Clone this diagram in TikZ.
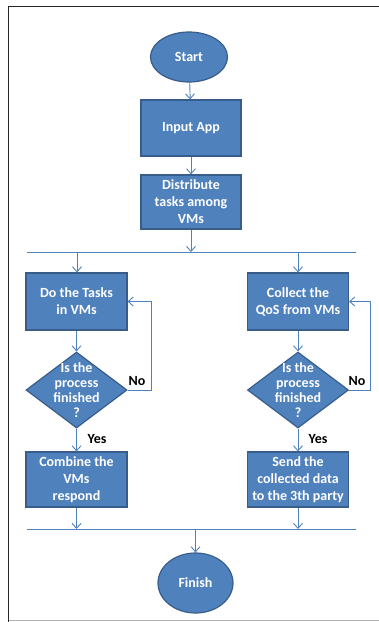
\documentclass[tikz,border=0pt]{standalone}
\usepackage{fontspec}
\setmainfont{Carlito}
\usetikzlibrary{arrows.meta,shapes.geometric}
\definecolor{boxblue}{HTML}{4F81BD}
\definecolor{boxedge}{HTML}{385D8A}
\definecolor{linkblue}{HTML}{4F81BD}
\tikzset{
  boxfont/.style={font=\fontsize{14}{17}\selectfont\bfseries},
  base/.style={fill=boxblue,draw=boxedge,line width=1.2pt,text=white,
    boxfont,align=center,inner sep=0pt},
  procbox/.style={base,rectangle,minimum width=100pt,minimum height=56pt},
  terminal/.style={base,ellipse},
  decision/.style={base,diamond,minimum width=101pt,minimum height=76pt},
  intext/.style={text=white,font=\fontsize{14}{15}\selectfont\bfseries,align=center,inner sep=0pt},
  link/.style={draw=linkblue,line width=0.9pt,-{Straight Barb[length=5pt,width=9pt]}},
  bar/.style={draw=linkblue,line width=0.9pt},
  lbl/.style={font=\fontsize{14}{15}\selectfont\bfseries,text=black,inner sep=0pt}
}
\begin{document}
\begin{tikzpicture}[x=1pt,y=-1pt]
\useasboundingbox (0,0) rectangle (379,622);
% page edges
\draw[draw=black!85,line width=1.6pt] (8.5,622) -- (8.5,6.5) -- (379,6.5);
\draw[draw=black!30,line width=1pt] (8.5,620.5) -- (379,620.5);

% top part
\node[terminal,minimum width=77pt,minimum height=50pt] (start) at (189,57) {Start};
\node[procbox] (input) at (191,128) {Input App};
\node[procbox,minimum height=54pt] (dist) at (191,202) {Distribute\\tasks among\\VMs};

% split bar
\coordinate (splitL) at (27,252);
\coordinate (splitR) at (356,252);
\coordinate (splitM) at (191,252);
\coordinate (splitA) at (77,252);
\coordinate (splitB) at (298,252);

% left branch
\node[procbox,minimum width=101pt,minimum height=57pt] (tasks) at (76.5,301.5) {Do the Tasks\\in VMs};
\node[decision] (doneL) at (76.5,390) {};
\node[intext] (doneLtxt) at (76.5,390) {Is the\\process\\finished\\?};
\node[procbox,minimum width=101pt,minimum height=55pt] (combine) at (76.5,479.5) {Combine the\\VMs\\respond};

% right branch
\node[procbox,minimum width=101pt,minimum height=57pt] (qos) at (298,301.5) {Collect the\\QoS from VMs};
\node[decision] (doneR) at (298,390) {};
\node[intext] (doneRtxt) at (298,390) {Is the\\process\\finished\\?};
\node[procbox,minimum width=101pt,minimum height=55pt] (send) at (298,479.5) {Send the\\collected data\\to the 3th party};

% join bar
\coordinate (joinL) at (27,529);
\coordinate (joinR) at (356,529);
\coordinate (joinA) at (76.5,529);
\coordinate (joinB) at (298,529);
\coordinate (joinM) at (195.5,529);

\node[terminal,minimum width=75pt,minimum height=60pt] (finish) at (195.5,583) {Finish};

% connectors
\draw[link] (start) -- (input);
\draw[link] (input) -- (dist);
\draw[link] (dist) -- (splitM);
\draw[bar] (splitL) -- (splitR);
\draw[link] (splitA) -- (tasks.north -| splitA);
\draw[link] (splitB) -- (qos.north -| splitB);

\draw[link] (tasks) -- (doneL);
\draw[link] (qos) -- (doneR);

\draw[link] (doneL.east) -- ++(24,0) |- (tasks.east);
\draw[link] (doneR.east) -- ++(21,0) |- (qos.east);
\node[lbl] (noL) at (137,381) {No};
\node[lbl] (noR) at (357,381) {No};

\draw[link] (doneL) -- (combine);
\draw[link] (doneR) -- (send);
\node[lbl] (yesL) at (97,439) {Yes};
\node[lbl] (yesR) at (318,439) {Yes};

\draw[link] (combine) -- (joinA);
\draw[link] (send) -- (joinB);
\draw[bar] (joinL) -- (joinR);
\draw[link] (joinM) -- (finish);
\end{tikzpicture}
\end{document}
